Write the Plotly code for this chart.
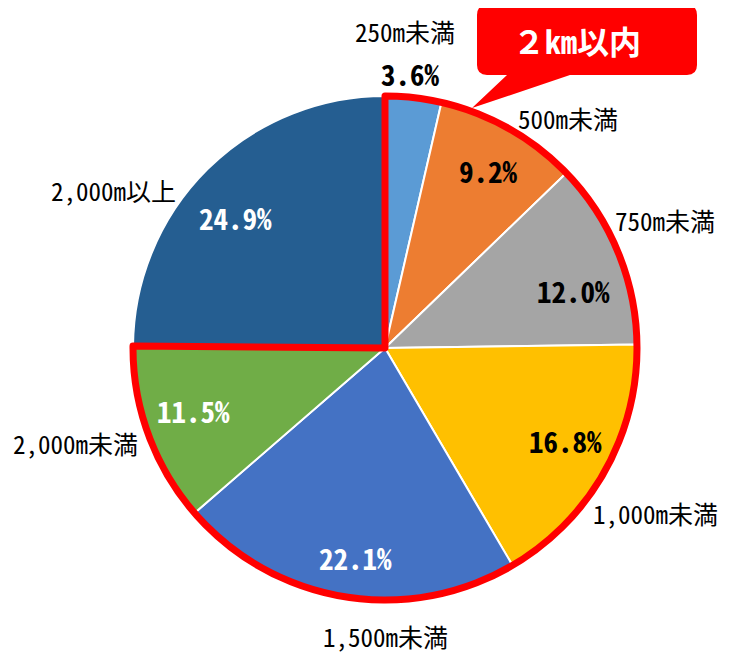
import plotly.graph_objects as go

# ---- data ----
categories = ["250m未満", "500m未満", "750m未満", "1,000m未満", "1,500m未満", "2,000m未満", "2,000m以上"]
shares = [3.6, 9.2, 12.0, 16.8, 22.1, 11.5, 24.9]
group_labels = ["２km以内", "2,000m以上"]

# ---- styles ----
colors = ["#5B9BD5", "#ED7D31", "#A5A5A5", "#FFC000", "#4472C4", "#70AD47", "#255E91"]
pct_colors = ["black", "black", "black", "black", "white", "white", "white"]
OFF = 8                      # default page body margin
W, H = 733 - OFF, 655 - OFF  # figure size so it fits the window
CX, CY, R = 385, 348, 252    # pie geometry in window pixels
FONT = "Noto Sans Mono CJK JP, Noto Sans CJK JP, sans-serif"

# label anchor points (window pixels) for category names and percentages
name_pos = [(405, 31), (568, 118), (665, 220), (655, 513), (385, 636), (75, 443), (113, 190)]
pct_pos = [(410, 73), (488, 170), (573, 290), (565, 440), (355, 557), (193, 410), (235, 217)]

def px(x, y):
    return (x - OFF) / W, 1 - (y - OFF) / H

(x_lo, y_hi), (x_hi, y_lo) = px(CX - R, CY - R), px(CX + R, CY + R)
dom_x, dom_y = [x_lo, x_hi], [y_lo, y_hi]

fig = go.Figure()
fig.add_trace(go.Pie(
    labels=categories, values=shares, sort=False, direction="clockwise", rotation=0,
    marker=dict(colors=colors, line=dict(color="white", width=2)),
    textinfo="none", hoverinfo="label+value", showlegend=False,
    domain=dict(x=dom_x, y=dom_y),
))
# red outline around the "within 2km" group
within = sum(shares[:-1])
fig.add_trace(go.Pie(
    labels=group_labels, values=[within, shares[-1]], sort=False, direction="clockwise", rotation=0,
    marker=dict(colors=["rgba(0,0,0,0)", "rgba(0,0,0,0)"],
                line=dict(color=["#FF0000", "rgba(0,0,0,0)"], width=[7, 0])),
    textinfo="none", hoverinfo="skip", showlegend=False,
    domain=dict(x=dom_x, y=dom_y),
))

ann = []
for c, (x, y) in zip(categories, name_pos):
    xx, yy = px(x, y)
    ann.append(dict(x=xx, y=yy, xref="paper", yref="paper", text=c, showarrow=False,
                    font=dict(family=FONT, size=25, color="black"), xanchor="center", yanchor="middle"))
for v, (x, y), col in zip(shares, pct_pos, pct_colors):
    xx, yy = px(x, y)
    ann.append(dict(x=xx, y=yy, xref="paper", yref="paper", text=f"<b>{v:.1f}%</b>", showarrow=False,
                    font=dict(family=FONT, size=29, color=col), xanchor="center", yanchor="middle"))

# callout box
x0, x1, y0, y1, r = 477, 697, 5, 75, 10
def P(x, y):
    a, b = px(x, y)
    return f"{a:.5f},{b:.5f}"
path = (f"M {P(x0 + r, y0)} L {P(x1 - r, y0)} Q {P(x1, y0)} {P(x1, y0 + r)} "
        f"L {P(x1, y1 - r)} Q {P(x1, y1)} {P(x1 - r, y1)} L {P(570, y1)} L {P(472, 108)} L {P(507, y1)} "
        f"L {P(x0 + r, y1)} Q {P(x0, y1)} {P(x0, y1 - r)} L {P(x0, y0 + r)} Q {P(x0, y0)} {P(x0 + r, y0)} Z")
shapes = [dict(type="path", path=path, xref="paper", yref="paper", fillcolor="#FF0000", line=dict(width=0))]
bx, by = px(577, 40)
ann.append(dict(x=bx, y=by, xref="paper", yref="paper", text="<b>２km以内</b>", showarrow=False,
                font=dict(family=FONT, size=32, color="white"), xanchor="center", yanchor="middle"))

fig.update_layout(width=W, height=H, margin=dict(l=0, r=0, t=0, b=0),
                  paper_bgcolor="white", plot_bgcolor="white",
                  annotations=ann, shapes=shapes)
fig.write_html("out.html")
